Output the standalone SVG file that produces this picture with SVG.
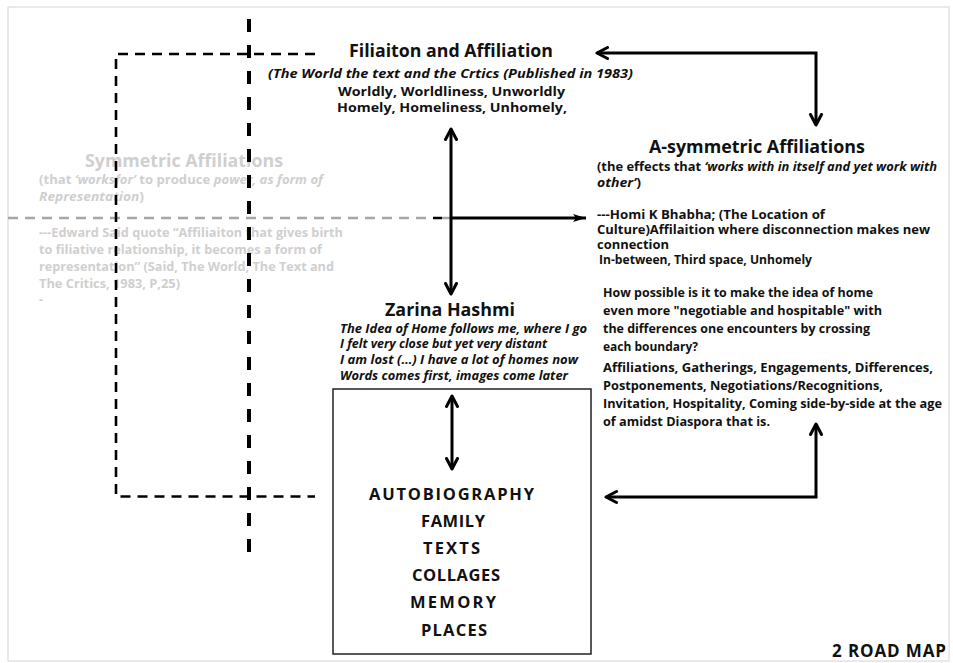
<svg xmlns="http://www.w3.org/2000/svg" width="953" height="663" viewBox="0 0 953 663">
<style>
text{font-family:"Open Sans","Noto Sans","Liberation Sans",sans-serif;font-weight:700;fill:#111}
.h{font-size:17px}
.s{font-size:12.5px}
.m{font-size:12px}
.i{font-style:italic}
.g{fill:#cfcfcf}
.cap{font-size:16.5px}
.ln{fill:none;stroke:#000;stroke-width:3}
</style>
<defs>
<marker id="chev" viewBox="0 0 14 14" refX="12" refY="7" markerWidth="14" markerHeight="14" markerUnits="userSpaceOnUse" orient="auto-start-reverse">
<path d="M1.5,1.5 L12,7 L1.5,12.5" fill="none" stroke="#000" stroke-width="3" stroke-linecap="round" stroke-linejoin="round"/>
</marker>
<marker id="tri" viewBox="0 0 14 10" refX="13" refY="5" markerWidth="14" markerHeight="10" markerUnits="userSpaceOnUse" orient="auto">
<path d="M0,1 L13,5 L0,9 L3,5 Z" fill="#000"/>
</marker>
</defs>
<rect x="0" y="0" width="953" height="663" fill="#fff"/>
<rect x="8" y="7" width="941" height="654" fill="none" stroke="#d4d4d4" stroke-width="1"/>

<g id="symmetric">
<text class="h g" x="85" y="167" textLength="198" lengthAdjust="spacingAndGlyphs">Symmetric Affiliations</text>
<text class="s g" x="39" y="184" textLength="284" lengthAdjust="spacingAndGlyphs">(that <tspan class="i">‘worksfor’</tspan> to produce <tspan class="i">power, as form of</tspan></text>
<text class="s g" x="39" y="200.5" textLength="105" lengthAdjust="spacingAndGlyphs"><tspan class="i">Representation</tspan>)</text>
<text class="s g" x="39" y="236.5" textLength="304" lengthAdjust="spacingAndGlyphs">---Edward Said quote “Affiliaiton that gives birth</text>
<text class="s g" x="39" y="253.5" textLength="283" lengthAdjust="spacingAndGlyphs">to filiative relationship, it becomes a form of</text>
<text class="s g" x="39" y="270.5" textLength="295" lengthAdjust="spacingAndGlyphs">representation” (Said, The World, The Text and</text>
<text class="s g" x="39" y="288" textLength="141" lengthAdjust="spacingAndGlyphs">The Critics, 1983, P,25)</text>
<text class="s g" x="39" y="304">-</text>
</g>

<g id="connectors">
<path d="M8,218 H433" fill="none" stroke="#a6a6a6" stroke-width="2.5" stroke-dasharray="10 7"/>
<path d="M433,218 H442" fill="none" stroke="#000" stroke-width="2.5"/>
<path d="M442,218 H450" fill="none" stroke="#a6a6a6" stroke-width="2.5"/>
<path d="M249,19 V563" fill="none" stroke="#000" stroke-width="4" stroke-dasharray="13 13"/>
<path d="M315,54 H116 V496.5 H315" fill="none" stroke="#000" stroke-width="2.6" stroke-dasharray="10 7"/>
<path class="ln" d="M451,129 V294" marker-start="url(#chev)" marker-end="url(#chev)" stroke-width="2.6"/>
<path class="ln" d="M450,218 H586" marker-end="url(#tri)" stroke-width="2.6"/>
<path class="ln" d="M597,53 H816 V125" marker-start="url(#chev)" marker-end="url(#chev)"/>
<path class="ln" d="M606,497 H816 V424" marker-start="url(#chev)" marker-end="url(#chev)"/>
<path class="ln" d="M452,396 V469" marker-start="url(#chev)" marker-end="url(#chev)" stroke-width="2.6"/>
</g>

<g id="filiation">
<text class="h" x="349" y="57" textLength="204" lengthAdjust="spacingAndGlyphs">Filiaiton and Affiliation</text>
<text class="s i" x="268" y="78" textLength="365" lengthAdjust="spacingAndGlyphs">(The World the text and the Crtics (Published in 1983)</text>
<text class="s" x="338" y="95.5" textLength="227" lengthAdjust="spacingAndGlyphs">Worldly, Worldliness, Unworldly</text>
<text class="s" x="337" y="112" textLength="230" lengthAdjust="spacingAndGlyphs">Homely, Homeliness, Unhomely,</text>
</g>

<g id="asymmetric">
<text class="h" x="649" y="153" textLength="216" lengthAdjust="spacingAndGlyphs">A-symmetric Affiliations</text>
<text class="m" x="597" y="171" textLength="340" lengthAdjust="spacingAndGlyphs">(the effects that <tspan class="i">‘works with in itself and yet work with</tspan></text>
<text class="m" x="597" y="187" textLength="44" lengthAdjust="spacingAndGlyphs"><tspan class="i">other’</tspan>)</text>
<text class="m" x="597" y="218.5" textLength="228" lengthAdjust="spacingAndGlyphs">---Homi K Bhabha; (The Location of</text>
<text class="m" x="597" y="233.5" textLength="333" lengthAdjust="spacingAndGlyphs">Culture)Affilaition where disconnection makes new</text>
<text class="m" x="597" y="248.5" textLength="72" lengthAdjust="spacingAndGlyphs">connection</text>
<text class="m" x="599" y="263.5" textLength="213" lengthAdjust="spacingAndGlyphs">In-between, Third space, Unhomely</text>
</g>

<g id="question">
<text class="m" x="603" y="296.5" textLength="270" lengthAdjust="spacingAndGlyphs">How possible is it to make the idea of home</text>
<text class="m" x="603" y="315" textLength="279" lengthAdjust="spacingAndGlyphs">even more "negotiable and hospitable" with</text>
<text class="m" x="603" y="333" textLength="267" lengthAdjust="spacingAndGlyphs">the differences one encounters by crossing</text>
<text class="m" x="603" y="350.5" textLength="95" lengthAdjust="spacingAndGlyphs">each boundary?</text>
<text class="m" x="603" y="371.5" textLength="330" lengthAdjust="spacingAndGlyphs">Affiliations, Gatherings, Engagements, Differences,</text>
<text class="m" x="603" y="389.5" textLength="280" lengthAdjust="spacingAndGlyphs">Postponements, Negotiations/Recognitions,</text>
<text class="m" x="603" y="408" textLength="339" lengthAdjust="spacingAndGlyphs">Invitation, Hospitality, Coming side-by-side at the age</text>
<text class="m" x="603" y="426" textLength="167" lengthAdjust="spacingAndGlyphs">of amidst Diaspora that is.</text>
</g>

<g id="zarina">
<text class="h" x="385" y="316" textLength="130" lengthAdjust="spacingAndGlyphs">Zarina Hashmi</text>
<text class="s i" x="340" y="332.5" textLength="247" lengthAdjust="spacingAndGlyphs">The Idea of Home follows me, where I go</text>
<text class="s i" x="340" y="347.5" textLength="207" lengthAdjust="spacingAndGlyphs">I felt very close but yet very distant</text>
<text class="s i" x="340" y="364" textLength="238" lengthAdjust="spacingAndGlyphs">I am lost (…) I have a lot of homes now</text>
<text class="s i" x="340" y="379.5" textLength="228" lengthAdjust="spacingAndGlyphs">Words comes first, images come later</text>
</g>

<g id="box">
<rect x="333" y="389" width="258" height="265" fill="none" stroke="#222" stroke-width="1.5"/>
<text class="cap" x="369" y="500" textLength="165" lengthAdjust="spacing">AUTOBIOGRAPHY</text>
<text class="cap" x="421" y="527" textLength="64" lengthAdjust="spacing">FAMILY</text>
<text class="cap" x="423" y="553.5" textLength="57" lengthAdjust="spacing">TEXTS</text>
<text class="cap" x="412" y="581" textLength="88" lengthAdjust="spacing">COLLAGES</text>
<text class="cap" x="410" y="607.5" textLength="86" lengthAdjust="spacing">MEMORY</text>
<text class="cap" x="421" y="636" textLength="66" lengthAdjust="spacing">PLACES</text>
</g>

<g id="roadmap">
<text x="832" y="656.5" textLength="114" lengthAdjust="spacing" style="font-size:17px">2 ROAD MAP</text>
</g>
</svg>
